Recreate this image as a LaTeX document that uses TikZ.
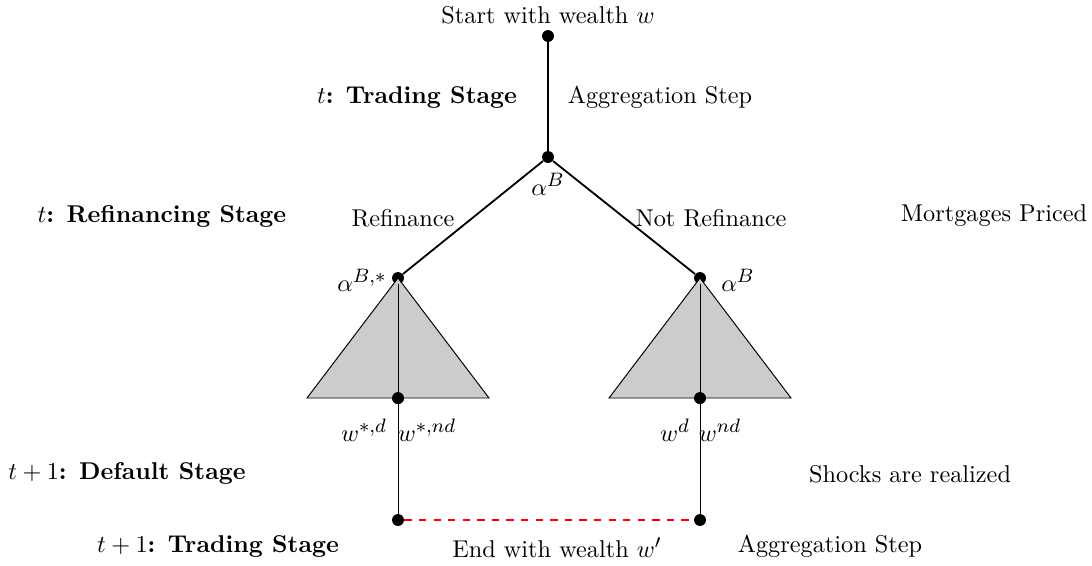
\documentclass[tikz,border=0pt]{standalone}
\DeclareMathSizes{10}{10}{8.5}{6}
\begin{document}
\begin{tikzpicture}[x=0.4116pt,y=-0.4116pt,
  dot/.style={circle,fill=black,inner sep=0pt,minimum size=4.9pt},
  lbl/.style={inner sep=0pt,anchor=center},
  edge/.style={line width=0.75pt},
  thin/.style={line width=0.4pt},
  tri/.style={fill=black!20,draw=black,line width=0.4pt}]
\useasboundingbox (0,0) rectangle (1092,565);
% dots
\node[dot] (top) at (548,36) {};
\node[dot] (mid) at (548,157) {};
\node[dot] (L) at (398,278) {};
\node[dot] (R) at (700,278) {};
\node[dot] (Lb) at (398,398) {};
\node[dot] (Rb) at (700,398) {};
\node[dot] (Le) at (398,520) {};
\node[dot] (Re) at (700,520) {};
% triangles
\coordinate (Ltl) at (307,398);
\coordinate (Ltr) at (489,398);
\coordinate (Rtl) at (609,398);
\coordinate (Rtr) at (791,398);
\draw[tri] (L.center) -- (Ltl) -- (Ltr) -- cycle;
\draw[tri] (R.center) -- (Rtl) -- (Rtr) -- cycle;
% edges
\draw[edge] (top) -- (mid);
\draw[edge] (mid) -- (L);
\draw[edge] (mid) -- (R);
\draw[thin] (L) -- (Lb);
\draw[thin] (R) -- (Rb);
\draw[thin] (Lb) -- (Le);
\draw[thin] (Rb) -- (Re);
\draw[red,dashed,line width=0.9pt] (Le) -- (Re);
\node[dot] at (Lb) {};
\node[dot] at (Rb) {};
% labels
\node[lbl] (t1) at (548,15) {Start with wealth $w$};
\node[lbl] (t2) at (417,97) {$t$\textbf{: Trading Stage}};
\node[lbl] (t3) at (660,97) {Aggregation Step};
\node[lbl] (t4) at (548,184) {$\alpha^B$};
\node[lbl] (t5) at (162,216) {$t$\textbf{: Refinancing Stage}};
\node[lbl] (t6) at (403,218) {Refinance};
\node[lbl] (t7) at (711,218) {Not Refinance};
\node[lbl] (t8) at (994,216) {Mortgages Priced};
\node[lbl] (t9) at (362,280) {$\alpha^{B,*}$};
\node[lbl] (t10) at (738,280) {$\alpha^B$};
\node[lbl] (t11) at (364,430) {$w^{*,d}$};
\node[lbl] (t12) at (427,430) {$w^{*,nd}$};
\node[lbl] (t13) at (675,430) {$w^{d}$};
\node[lbl] (t14) at (720,430) {$w^{nd}$};
\node[lbl] (t15) at (127,473) {$t+1$\textbf{: Default Stage}};
\node[lbl] (t16) at (910,474) {Shocks are realized};
\node[lbl] (t17) at (218,546) {$t+1$\textbf{: Trading Stage}};
\node[lbl] (t18) at (557,548) {End with wealth $w'$};
\node[lbl] (t19) at (830,546) {Aggregation Step};
\end{tikzpicture}
\end{document}
